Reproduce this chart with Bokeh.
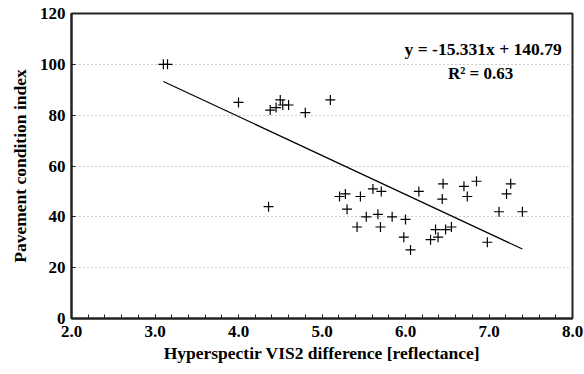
from bokeh.plotting import figure
from bokeh.models import FixedTicker, NumeralTickFormatter, Label, Range1d
from bokeh.embed import file_html
from bokeh.resources import INLINE

# data
vis2_diff = [3.10, 3.15, 4.00, 4.38, 4.45, 4.50, 4.53, 4.60, 4.80, 5.10,
             4.36, 5.21, 5.28, 5.46, 5.61, 5.71, 5.30, 5.53, 5.67, 5.84,
             5.42, 5.70, 6.00, 5.98, 6.06, 6.16, 6.30, 6.36, 6.39, 6.48,
             6.55, 6.45, 6.44, 6.70, 6.74, 6.85, 6.98, 7.12, 7.21, 7.26, 7.40]
pci = [100, 100, 85, 82, 83, 86, 84, 84, 81, 86,
       44, 48, 49, 48, 51, 50, 43, 40, 41, 40,
       36, 36, 39, 32, 27, 50, 31, 35, 32, 35,
       36, 53, 47, 52, 48, 54, 30, 42, 49, 53, 42]
slope = -15.331
intercept = 140.79
x_ticks = [2, 3, 4, 5, 6, 7, 8]
y_ticks = [0, 20, 40, 60, 80, 100, 120]
equation_text = "y = -15.331x + 140.79"
r2_text = "R\u00b2 = 0.63"
x_label = "Hyperspectir VIS2 difference [reflectance]"
y_label = "Pavement condition index"

FONT = "Liberation Serif"
DARK = "#222222"

p = figure(width=584, height=374, output_backend="svg", toolbar_location=None,
           x_range=Range1d(2, 8), y_range=Range1d(0, 120),
           min_border_left=71, min_border_right=12, min_border_top=13, min_border_bottom=56)

p.outline_line_color = DARK
p.outline_line_width = 2
p.background_fill_color = "white"
p.border_fill_color = "white"

p.xgrid.grid_line_color = None
p.ygrid.grid_line_color = "#999999"
p.ygrid.grid_line_dash = "1 3"
p.ygrid.grid_line_width = 1

minor = [2 + 0.2 * i for i in range(31)]
p.xaxis.ticker = FixedTicker(ticks=x_ticks, minor_ticks=minor)
p.yaxis.ticker = FixedTicker(ticks=y_ticks)
p.xaxis.formatter = NumeralTickFormatter(format="0.0")

for ax in (p.xaxis, p.yaxis):
    ax.axis_line_color = DARK
    ax.axis_line_width = 2
    ax.major_tick_in = 4
    ax.major_tick_out = 0
    ax.major_tick_line_color = DARK
    ax.minor_tick_in = 4
    ax.minor_tick_out = 0
    ax.minor_tick_line_color = DARK
    ax.major_label_text_font = FONT
    ax.major_label_text_font_style = "bold"
    ax.major_label_text_font_size = "17px"
    ax.major_label_text_color = "black"
    ax.axis_label_text_font = FONT
    ax.axis_label_text_font_style = "bold"
    ax.axis_label_text_font_size = "17.5px"
    ax.axis_label_text_color = "black"

p.yaxis.minor_tick_line_color = None
p.yaxis.major_label_standoff = 6
p.xaxis.major_label_standoff = 7
p.xaxis.axis_label = x_label
p.yaxis.axis_label = y_label
p.xaxis.axis_label_standoff = 3
p.yaxis.axis_label_standoff = 7

p.scatter(vis2_diff, pci, marker="cross", size=10, line_color="black", line_width=1.2)

x0, x1 = min(vis2_diff), max(vis2_diff)
p.line([x0, x1], [slope * x0 + intercept, slope * x1 + intercept], line_color="black", line_width=1.2)

p.add_layout(Label(x=7.87, y=102, text=equation_text, text_align="right",
                   text_font=FONT, text_font_style="bold", text_font_size="17.5px", text_color="black"))
p.add_layout(Label(x=6.90, y=92.5, text=r2_text, text_align="center",
                   text_font=FONT, text_font_style="bold", text_font_size="17px", text_color="black"))

open("out.html", "w").write(file_html(p, INLINE))
